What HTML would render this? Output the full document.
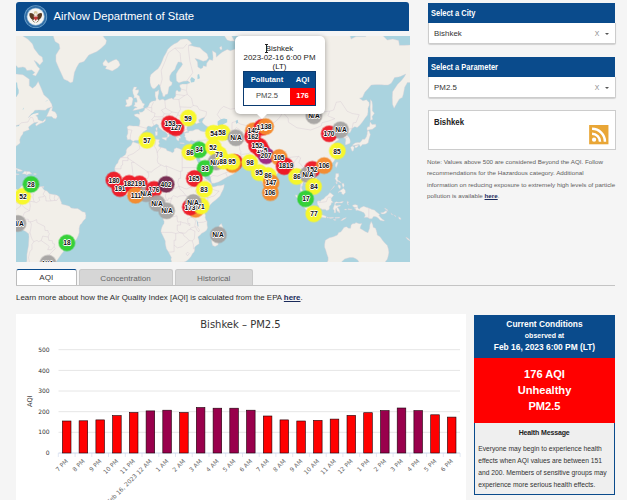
<!DOCTYPE html>
<html><head><meta charset="utf-8"><title>AirNow Department of State</title>
<style>
html,body{margin:0;padding:0}
body{width:627px;height:500px;overflow:hidden;position:relative;background:#f5f5f5;font-family:"Liberation Sans",Arial,sans-serif;color:#333}
.abs{position:absolute}
.blue{background:#0a4b8c;color:#fff}
#hdr{left:16px;top:2px;width:393.2px;height:28.5px;border-radius:3px 3px 0 0}
#hdr .t{position:absolute;left:37.5px;top:7px;font-size:11.3px;line-height:14px;white-space:nowrap}
#map{left:16px;top:36px;width:393.5px;height:226px;overflow:hidden;background:#aad3df}
#lb b{position:absolute;transform:translate(-50%,-50%) scaleX(.86);font:bold 7.7px/8px "Liberation Sans",Arial,sans-serif;color:#0c0c0c;white-space:nowrap;text-shadow:0 0 1.2px #fff,0 0 1.2px #fff,0 0 1.2px #fff,0 0 1.8px #fff,.6px 0 .7px #fff,-.6px 0 .7px #fff,0 .6px .7px #fff,0 -.6px .7px #fff,.5px .5px .7px #fff,-.5px -.5px .7px #fff}
#map svg{position:absolute;left:0;top:0}
.bar{left:427.5px;width:187.5px;height:20.5px;font-size:8.5px;font-weight:bold;line-height:20.7px;text-indent:0}
.bar span{display:inline-block;transform:scaleX(.88);transform-origin:0 50%;margin-left:3.3px;white-space:nowrap}
.sel{left:427.5px;width:186.5px;height:20px;background:#fff;border:.5px solid #ccc;border-top:0;font-size:7.9px;line-height:22px;text-indent:5.6px;border-radius:0 0 2px 2px;box-shadow:0 .5px 1px rgba(0,0,0,.15)}
.sel i{position:absolute;left:166.2px;top:-.2px;font-style:normal;color:#888;font-size:6.8px;text-indent:0}
.sel s{position:absolute;left:176.2px;top:9.8px;width:0;height:0;border:2.3px solid transparent;border-top:2.7px solid #555;border-bottom:0}
#city{left:427.5px;top:109.5px;width:188.2px;height:40.9px;background:#fff;border:.6px solid #ccc;box-sizing:border-box}
#city b{position:absolute;left:5.6px;top:6.2px;font-size:8.8px;line-height:11px;color:#222;transform:scaleX(.89);transform-origin:0 50%}
#note{left:427px;top:156.1px;width:195px;font-size:6.24px;line-height:11.3px;color:#5e5e5e;white-space:nowrap}
#note u{color:#1a2a5a;font-weight:bold}
.tab{top:269px;height:15.5px;font-size:8.1px;line-height:17.5px;text-align:center;box-sizing:border-box;border-radius:2.5px 2.5px 0 0}
.tab.off{background:#d6d6d6;color:#666;border:.5px solid #c8c8c8;border-bottom:0}
.tab.on{background:#fff;color:#333;border:.7px solid #bbb;border-top:1.2px solid #0a4b8c;border-bottom:0;height:16px;line-height:16.6px}
#learn{left:16px;top:291.5px;font-size:7.9px;line-height:11px;white-space:nowrap;color:#2b2b2b}
#learn u{color:#1a2a5a;font-weight:bold}
#chart{left:16px;top:314px;width:450px;height:190px;background:#fff}
#chart text{font:6px "DejaVu Sans",Verdana,sans-serif;fill:#666}
#chart text.yl{fill:#333}
#cond{left:474px;top:315px;width:141px;text-align:center}
#cond .h{height:42.5px;font-weight:bold;font-size:8.4px;line-height:11.6px;padding-top:0;box-sizing:border-box}
#cond .r{background:#ff0000;color:#fff;font-weight:bold;height:65px;font-size:11.1px;line-height:16px;box-sizing:border-box;padding-top:8.3px}
#cond .m{background:#efefef;border:1px solid #0a4b8c;border-top:0;height:72px;box-sizing:border-box;font-size:6.72px;line-height:12px;color:#333;text-align:left;padding:0 0 0 3.2px;white-space:nowrap}
#cond .m b{display:block;text-align:center;font-size:7px;letter-spacing:-.15px;color:#222;padding:4.6px 4px 3.5px 0}
#pop{left:234.5px;top:36px;width:90px;height:78px;background:#fff;border-radius:5px;box-shadow:0 1px 5px rgba(0,0,0,.35);text-align:center;font-size:7.9px;line-height:8.7px;color:#222}
#pop table{position:absolute;left:8.5px;top:35px;width:73px;border-collapse:collapse;border:.7px solid #0a3a70;font-size:7.6px}
#pop th{background:#0a4b8c;color:#fff;height:16.3px;padding:0;font-weight:bold}
#pop td{height:16.7px;padding:0;color:#444}
</style></head><body>

<div id="hdr" class="abs blue">
 <svg class="abs" style="left:8.4px;top:2.7px" width="23.4" height="23.4" viewBox="-11.7 -11.7 23.4 23.4">
  <circle r="11.5" fill="#6c9fc8"/><circle r="10.6" fill="#2e6ca5"/><circle r="9" fill="#8fb4d3"/><circle r="8.3" fill="#f6f5f2"/>
  <path d="M-1.2 -1.5C-3 -4 -5.4 -4.2 -6.3 -3.2C-6.6 -0.6 -5.6 2.2 -2.4 3.6L-1 1.5Z" fill="#5a3b22"/>
  <path d="M1.2 -1.5C3 -4 5.4 -4.2 6.3 -3.2C6.6 -0.6 5.6 2.2 2.4 3.6L1 1.5Z" fill="#5a3b22"/>
  <path d="M-1.9 -1h3.8v2.6L0 4.2L-1.9 1.6Z" fill="#c23a3a"/><path d="M-1.9 -1.2h3.8v1.1h-3.8z" fill="#e9e4da"/>
  <circle cy="-3.6" r="2" fill="#d9c9a0"/><circle cy="-2.4" r="1" fill="#f3efe6"/>
  <path d="M-3.2 3.6L-1 5.8M3.2 3.6L1 5.8" stroke="#6b5a3a" stroke-width=".9" fill="none"/>
 </svg>
 <div class="t">AirNow Department of State</div>
</div>

<div id="map" class="abs">
<svg width="393.5" height="226" viewBox="0 0 393.5 226">
 <path d="M32.6 -25.4L35.8 -7.3L37.4 0.6L39.1 5.6L43.1 7.9L43.9 12.5L39.9 19.0L39.9 25.2L42.3 30.9L45.5 38.1L47.9 43.2L51.9 44.9L54.3 46.8L56.8 45.9L57.6 41.6L58.4 36.4L60.8 30.9L63.2 27.1L68.0 25.6L72.8 19.0L80.9 15.6L84.9 12.5L89.7 7.9L90.5 4.6L87.3 0.6L90.5 -4.6L93.8 -25.4Z M86.8 27.1L89.7 23.6L92.2 27.1L97.0 24.4L100.2 23.2L102.6 25.2L104.1 29.0L101.8 31.7L96.2 35.0L92.2 33.5L89.4 32.8L90.5 30.2L87.3 29.4Z M-6.0 -25.4L2.0 -4.6L6.9 0.1L11.7 3.1L16.5 7.9L18.1 12.5L23.0 19.0L26.2 21.1L27.0 25.2L23.8 29.0L20.6 25.9L18.1 24.4L21.4 30.2L23.8 32.8L21.7 36.4L19.7 39.9L16.5 38.8L18.9 36.4L15.7 33.9L10.9 34.6L9.3 31.7L6.9 30.9L2.0 31.7L0.4 29.8L-6.0 29.0Z M-6.0 38.1L0.4 38.1L6.9 38.8L13.3 43.2L13.3 49.7L16.5 52.2L19.7 49.7L22.2 45.5L25.4 52.8L27.8 58.7L32.6 62.9L35.8 68.3L36.3 70.9L31.8 72.2L29.4 74.2L23.0 74.0L18.9 74.2L17.3 76.5L14.1 79.7L12.5 81.6L14.9 78.4L16.5 77.7L22.2 76.7L22.5 78.4L19.7 79.7L21.4 80.8L22.2 83.7L24.6 84.8L27.0 85.3L29.4 82.5L29.4 84.8L27.8 86.2L23.8 87.8L20.2 90.0L19.4 88.2L22.2 86.0L18.1 86.7L14.9 88.9L12.5 91.1L13.3 93.8L10.9 94.6L7.2 95.9L6.9 98.0L4.8 100.7L3.7 103.8L4.1 107.1L2.0 108.7L0.4 109.9L-6.0 115.4L-6.0 55.8L1.6 54.3L2.5 57.2L0.4 60.7L-6.0 62.9Z M30.5 80.6L32.6 76.0L34.2 72.2L36.6 70.7L35.8 74.7L39.1 76.0L40.7 78.4L41.1 80.8L39.9 82.7L37.4 82.3L35.8 80.6Z M-6.0 130.2L0.4 132.3L5.3 133.9L6.6 134.7L5.3 135.2L0.9 135.2L2.0 134.0L-0.4 133.3L-6.0 132.0Z M-0.0 137.8L3.2 138.1L2.9 138.6L0.1 138.8Z M6.2 137.8L8.5 135.2L10.6 135.4L13.3 135.6L15.9 137.5L14.9 137.8L12.5 138.1L10.9 139.0L9.3 138.1Z M17.8 137.6L20.4 137.8L20.1 138.5L17.8 138.5Z M26.3 150.6L28.0 150.4L27.8 151.6L26.3 151.6Z M-6.0 152.6L0.4 152.9L1.6 153.9L2.4 154.0L4.3 151.4L5.6 149.9L8.5 149.5L10.9 147.8L11.2 150.1L10.3 150.9L10.9 150.3L11.7 150.4L13.3 149.3L13.3 148.1L15.7 149.6L16.5 150.9L19.7 150.8L22.2 151.4L24.6 150.6L26.2 150.6L26.5 151.7L27.8 153.4L28.6 154.2L31.0 155.0L33.4 157.8L37.4 158.4L40.7 159.1L43.1 160.7L44.7 164.7L45.5 166.6L45.5 167.9L47.9 168.7L49.5 169.0L53.5 170.3L55.1 171.9L58.4 172.4L61.6 172.4L64.0 173.9L66.4 175.7L69.1 176.3L69.9 179.5L69.6 182.5L67.2 184.9L65.6 187.4L64.0 189.0L63.2 192.3L63.2 196.5L62.1 199.9L60.3 203.4L58.7 205.6L55.9 206.0L53.5 206.8L51.1 208.1L48.7 210.0L47.7 212.2L47.6 215.4L45.5 218.0L43.1 221.4L41.5 223.8L39.9 226.2L37.4 227.9L34.2 227.1L32.0 226.2L33.7 230.1L34.2 238.3L8.5 238.3L10.1 230.1L10.9 224.2L10.9 218.6L12.5 209.5L13.0 200.8L12.7 197.9L10.1 195.7L5.3 193.2L3.2 190.7L1.7 187.4L0.1 184.1L-1.2 180.8L-6.0 177.6Z M116.4 106.2L117.4 106.0L121.1 107.3L122.7 107.5L125.9 106.2L128.4 104.8L130.8 104.0L134.0 104.2L137.2 103.8L140.4 103.2L142.4 103.4L143.6 103.8L142.8 105.8L143.6 107.7L142.4 109.1L142.8 110.5L144.4 111.2L146.9 111.8L150.1 112.8L150.9 114.5L154.1 115.6L156.5 116.7L158.1 115.4L158.1 113.0L160.5 111.8L162.9 112.4L166.2 114.1L169.4 114.8L172.6 115.4L175.0 114.5L177.4 114.8L177.9 115.0L178.4 117.3L178.1 118.2L179.0 120.6L180.0 121.9L180.6 123.7L181.9 126.4L183.1 128.1L183.4 129.9L185.2 131.6L185.8 133.3L186.0 135.9L187.9 138.5L189.5 142.7L191.9 144.0L194.3 146.5L195.6 147.6L195.4 149.0L196.7 150.9L199.1 150.6L201.6 149.8L204.8 149.6L208.3 148.6L208.0 150.9L207.2 153.4L205.6 156.6L204.0 159.9L201.6 162.3L199.1 164.4L196.7 166.3L194.3 168.7L192.7 170.8L190.6 172.7L189.5 175.2L188.7 177.6L189.5 179.2L189.2 181.6L190.0 184.1L191.1 185.2L191.1 189.0L191.6 191.5L190.8 194.0L188.7 195.7L185.5 197.4L184.3 198.9L182.3 200.4L181.9 201.6L182.9 203.9L183.1 207.7L179.8 210.0L178.7 211.3L178.7 214.0L178.1 216.0L176.6 217.6L175.0 220.4L172.6 223.3L170.2 225.2L167.8 226.2L164.6 226.3L161.3 226.5L158.1 227.7L155.7 226.5L155.4 225.2L154.9 223.3L155.4 221.4L153.8 218.6L152.5 216.0L150.4 212.7L149.3 207.7L149.3 205.1L147.7 201.6L146.1 198.2L144.9 195.7L145.2 193.2L146.5 189.8L148.0 187.4L148.1 185.4L146.9 182.5L147.3 181.3L145.7 177.6L145.2 176.0L143.6 174.0L141.5 171.8L140.4 169.5L140.9 167.9L141.4 166.3L141.5 164.2L141.7 162.6L141.2 161.6L140.3 160.7L139.3 160.7L137.2 160.8L135.6 161.0L134.5 159.5L133.2 157.9L131.4 157.6L129.2 157.8L127.5 158.4L125.9 158.9L123.5 159.9L121.9 160.0L120.3 159.7L117.9 159.7L115.5 160.3L113.9 160.8L111.5 159.5L108.7 157.8L107.4 156.8L105.8 155.8L104.7 154.2L104.5 152.9L102.6 151.3L101.8 150.1L100.5 148.8L99.1 147.8L98.9 146.3L98.6 145.2L97.8 144.0L98.9 142.7L99.4 141.0L99.9 138.5L99.7 136.3L99.4 135.1L98.6 133.3L98.9 131.3L100.2 128.6L101.8 126.9L102.6 124.2L104.7 121.5L106.6 120.8L109.5 118.6L110.3 116.3L110.2 114.5L111.1 112.4L113.1 110.7L115.0 109.5L116.0 107.3Z M205.3 187.4L206.7 190.7L207.2 193.2L206.1 194.0L205.6 196.5L204.5 200.8L203.2 205.1L201.9 209.1L199.1 210.4L196.7 209.5L195.9 206.8L195.6 203.9L197.2 200.8L196.7 197.4L197.5 194.3L200.0 193.5L202.4 191.8L203.2 189.8L204.5 188.2Z M111.5 103.8L110.7 100.3L111.8 97.6L111.8 93.8L111.0 91.1L113.1 89.6L117.1 90.0L120.3 90.0L123.0 90.3L123.8 87.8L124.0 84.4L122.4 81.8L118.7 80.1L118.2 78.4L121.1 77.7L123.4 78.2L123.2 75.5L124.3 76.2L126.3 76.0L128.4 74.2L128.7 72.5L131.6 71.2L132.7 69.6L133.7 67.0L135.6 65.6L137.2 65.1L139.6 64.8L140.1 62.9L139.1 60.1L139.1 55.8L141.2 55.2L142.8 53.7L142.8 57.2L142.0 60.1L142.0 62.6L143.6 64.3L146.1 63.2L147.7 63.5L148.8 64.6L152.5 62.9L155.7 62.1L157.3 63.2L158.1 61.8L159.7 60.1L159.7 55.8L161.0 54.0L162.9 55.8L164.6 55.2L165.0 52.8L163.8 50.6L163.8 49.1L166.2 48.1L171.0 48.1L174.2 46.8L171.8 44.9L167.8 45.2L162.9 46.8L160.5 44.9L160.2 41.6L160.2 38.1L162.1 34.6L165.4 30.2L166.6 28.3L165.4 26.3L162.1 25.9L160.2 29.8L158.9 33.5L155.7 36.4L153.8 39.9L153.6 43.2L154.1 44.9L156.2 46.5L155.7 49.1L153.0 50.9L152.5 54.3L151.7 58.1L149.3 58.7L148.8 60.4L146.9 60.4L146.5 57.8L144.9 54.3L144.0 49.7L142.8 48.1L141.2 50.0L138.8 52.5L136.9 52.8L135.0 50.3L134.0 46.5L134.0 41.6L134.8 38.8L137.2 36.4L139.6 34.6L142.0 32.8L144.4 29.0L146.1 25.2L147.7 21.1L150.1 16.9L151.7 13.4L154.9 10.3L158.1 7.9L161.3 6.5L164.6 3.6L167.8 3.1L171.0 3.1L174.2 5.6L175.8 7.9L172.6 9.3L175.8 9.8L179.0 10.7L183.9 11.6L187.1 14.7L191.1 17.8L192.4 21.9L190.3 24.4L187.1 25.2L182.3 23.2L179.0 22.4L181.5 25.9L181.9 30.9L184.7 32.8L186.8 31.7L187.1 29.8L190.3 30.6L190.8 27.1L193.5 23.6L196.7 24.4L197.1 21.1L196.4 14.7L200.0 16.9L200.4 21.1L203.2 18.6L206.4 16.1L211.2 13.4L214.4 14.7L219.3 13.0L222.5 10.3L223.3 7.9L228.9 11.2L232.1 12.5L233.7 10.3L233.4 4.6L234.5 0.6L235.4 -25.4L241.8 -25.4L242.6 0.6L241.8 10.3L243.1 16.9L245.0 16.9L245.0 7.9L245.8 -2.0L246.6 -25.4L331.9 -25.4L333.5 -2.0L335.1 3.1L339.9 0.6L349.6 0.6L351.2 -6.2L360.9 -3.5L367.3 0.1L371.3 4.1L376.9 3.1L382.6 4.6L383.4 9.3L388.2 9.3L396.3 8.9L399.5 -25.4L402.7 46.5L391.4 46.5L388.7 51.2L387.4 58.1L386.3 61.5L383.4 62.9L381.0 67.0L378.1 72.2L376.5 68.3L376.3 61.5L376.6 55.8L378.6 52.8L381.8 48.1L385.0 44.9L388.2 40.9L389.8 38.1L384.2 40.6L382.6 40.9L378.6 41.6L375.3 47.2L372.1 49.1L368.9 49.1L364.9 48.7L359.2 48.7L355.2 49.1L352.0 52.8L348.8 56.3L346.4 61.5L343.6 62.3L346.9 64.8L350.4 63.7L353.1 66.5L353.3 69.1L352.0 72.2L352.0 76.0L351.5 78.9L348.8 82.5L346.4 86.0L344.0 88.9L341.2 91.6L338.8 90.7L336.7 92.0L335.9 92.7L334.6 95.5L334.3 96.3L331.4 97.8L330.9 99.3L332.4 100.5L334.0 103.2L334.3 105.8L334.0 107.3L332.2 107.9L329.5 108.9L329.3 106.7L329.8 104.2L329.3 102.3L327.4 102.1L327.1 100.5L327.4 98.6L325.9 97.8L323.0 98.8L321.1 100.1L321.9 96.3L320.6 95.9L318.2 98.0L315.8 99.3L315.3 100.7L317.1 102.1L317.9 103.4L320.1 102.1L323.0 103.2L322.7 104.0L319.8 105.6L317.9 107.7L319.5 109.3L320.3 112.0L321.9 113.9L322.1 115.6L320.6 116.5L322.2 117.7L321.6 120.0L320.3 121.3L318.7 124.0L317.4 126.0L315.8 127.4L314.2 129.0L312.6 130.1L309.7 131.1L308.2 131.4L305.8 132.3L303.7 133.0L303.4 134.6L302.6 132.7L300.5 132.1L298.1 133.3L297.3 135.1L296.2 136.8L297.3 139.0L298.9 140.8L300.5 142.3L301.6 145.2L301.8 147.6L301.3 149.3L298.9 150.9L297.6 151.7L297.5 153.4L294.9 153.9L294.6 152.1L293.8 150.9L292.5 150.8L291.3 148.8L290.1 147.6L288.4 147.3L288.3 146.2L287.3 146.2L286.8 147.6L286.7 149.3L285.6 150.9L285.7 152.9L286.8 154.2L287.6 156.3L289.3 157.0L290.9 158.2L292.1 159.9L292.3 161.5L292.5 163.4L293.6 165.5L292.5 165.8L290.9 164.7L288.9 163.3L288.0 161.5L287.3 159.1L287.2 157.4L286.2 156.6L284.7 155.0L284.1 154.7L284.1 153.1L284.4 150.9L284.7 148.8L284.4 146.8L283.6 144.8L283.1 142.2L282.8 140.8L281.7 140.2L279.6 142.0L278.0 141.8L277.7 139.3L277.2 137.1L276.4 135.4L274.5 133.5L273.6 131.1L271.6 130.7L269.9 132.0L267.5 132.1L265.9 132.8L265.6 134.2L263.5 135.6L261.9 137.1L259.8 139.1L258.4 140.7L256.6 141.8L255.0 142.7L254.8 145.2L255.1 146.8L254.5 148.5L254.3 151.1L253.4 151.4L252.9 152.9L251.8 153.7L250.6 155.0L249.0 153.5L248.5 151.7L247.7 149.3L246.3 146.8L245.6 144.3L244.2 141.8L243.4 139.3L243.1 136.8L242.9 134.2L242.8 132.5L242.3 133.3L240.2 133.7L238.6 133.0L237.0 131.1L238.9 130.1L236.5 129.4L234.5 128.3L233.7 126.7L232.9 125.6L229.7 126.0L225.7 126.2L222.5 125.8L219.3 125.3L217.7 123.3L216.0 122.6L213.6 123.5L211.2 122.8L208.8 121.1L207.2 118.8L206.4 116.9L204.6 116.7L203.2 117.5L203.5 119.1L204.5 121.3L206.1 123.1L206.7 124.6L207.7 126.7L208.5 124.6L209.0 126.4L208.8 127.6L210.4 127.8L212.8 127.8L214.9 125.8L216.5 124.2L216.7 126.5L217.7 128.3L220.2 128.8L222.2 130.7L221.7 132.5L220.1 134.4L218.9 136.8L216.8 138.5L214.8 139.3L212.8 140.2L209.9 141.8L204.8 144.8L202.4 146.0L198.3 147.2L195.9 147.3L195.4 146.0L194.8 143.5L194.6 141.0L192.7 138.5L191.1 135.9L189.0 133.3L188.7 130.7L187.4 128.1L185.8 126.4L184.8 124.6L183.1 121.9L181.9 121.0L182.3 118.2L181.3 121.0L179.4 119.7L178.4 117.3L177.9 115.0L181.0 114.8L182.1 112.6L183.1 109.7L183.7 106.7L184.2 104.4L181.9 104.4L179.8 105.4L177.4 105.0L175.2 104.2L173.4 105.4L171.0 104.4L169.9 103.8L169.7 101.7L168.6 100.7L169.1 98.8L168.1 97.8L170.2 96.7L172.6 96.5L172.9 95.0L176.6 94.8L179.8 93.3L182.3 93.3L184.7 95.0L187.9 95.7L190.3 95.5L192.7 94.4L192.7 91.8L190.3 90.0L187.9 88.2L186.0 86.0L187.4 83.2L189.0 81.6L186.3 82.0L182.6 83.7L183.1 86.0L184.7 86.0L182.3 87.1L180.2 88.0L178.4 86.0L179.8 84.4L177.4 83.7L175.5 83.2L173.7 86.0L172.1 88.9L170.7 91.8L171.3 94.4L172.4 95.3L170.2 95.7L168.6 96.7L168.1 96.1L166.2 95.7L164.6 96.1L163.8 97.2L162.6 96.5L162.5 98.6L163.3 99.7L164.6 101.3L164.6 102.3L163.3 101.9L162.9 103.2L163.1 104.8L162.0 104.8L160.9 104.0L160.1 102.1L160.5 101.1L162.6 101.7L159.7 100.9L159.2 99.7L158.1 98.2L157.2 96.5L157.3 94.0L155.7 92.2L153.3 90.7L151.4 89.4L150.1 87.3L149.3 86.2L148.0 86.7L147.8 85.1L145.9 85.8L145.7 87.8L147.7 89.8L148.8 92.2L150.9 93.3L152.0 93.8L151.7 94.6L154.1 95.9L155.7 97.2L155.4 98.0L153.3 96.5L152.6 98.2L153.5 99.7L152.5 101.1L151.2 101.9L151.4 100.1L151.7 98.6L150.9 97.4L149.8 96.3L148.5 95.5L146.9 94.8L145.6 93.8L143.6 92.2L142.7 91.1L142.4 89.1L140.4 88.0L138.8 89.1L137.7 89.6L135.6 90.9L133.7 90.3L132.1 90.0L130.8 91.6L131.1 93.5L129.2 94.8L127.2 95.9L125.6 98.2L126.3 100.1L125.0 101.7L124.7 102.5L122.7 104.2L118.9 104.4L117.3 105.6L116.0 104.8L114.7 103.4L112.7 103.6Z M116.8 74.5L120.3 74.0L124.3 73.0L128.0 71.7L127.2 70.9L128.7 68.1L126.4 67.0L125.9 65.4L124.0 62.6L123.4 60.1L121.1 58.7L122.7 55.8L122.7 53.7L119.5 54.0L120.8 50.9L117.9 50.9L116.6 54.3L117.1 57.8L118.2 60.1L117.9 62.1L120.3 61.8L121.1 64.3L121.1 66.2L118.7 66.2L119.0 68.3L117.6 70.2L120.3 70.9L121.1 71.7L119.0 72.0Z M109.8 70.7L113.1 70.4L115.8 69.1L116.3 66.2L117.1 62.9L115.5 60.9L112.7 60.9L112.3 63.2L109.8 63.7L110.2 66.2L111.0 68.1L109.4 69.4Z M145.9 101.7L151.0 101.3L150.2 104.4L146.1 102.5Z M139.1 95.5L141.5 95.5L141.4 99.3L139.5 99.7Z M139.8 92.2L141.2 91.1L141.2 94.4L140.1 94.4Z M163.8 106.7L168.3 107.1L168.1 107.7L163.8 107.3Z M177.9 107.7L181.6 106.4L180.6 107.9L178.6 108.5Z M208.8 0.6L211.2 4.1L214.4 5.1L218.5 5.1L216.0 0.6L215.2 -25.4L209.6 -25.4Z M203.7 11.2L205.6 10.3L206.1 13.4L204.0 13.4Z M254.3 152.2L255.1 152.6L256.8 154.2L257.7 156.3L257.1 157.8L255.5 158.4L254.7 157.9L254.3 155.8L254.5 153.7Z M351.2 94.4L353.1 93.8L356.3 93.3L360.0 90.5L359.7 88.2L356.0 88.5L354.1 85.8L353.8 88.9L353.3 90.7L351.7 90.7L350.9 92.7Z M352.8 94.6L354.4 98.6L353.6 101.1L352.8 103.8L352.3 106.4L350.9 107.7L349.3 108.3L346.4 108.5L346.1 109.1L344.4 110.7L343.2 108.5L339.9 109.1L336.7 109.7L336.7 108.7L339.1 106.9L341.5 106.6L344.0 106.6L345.6 104.8L346.4 103.2L348.8 103.2L350.4 100.7L351.2 98.0L351.2 96.1L351.7 95.0Z M335.1 110.7L336.7 110.1L338.2 111.6L337.4 114.7L336.1 115.2L335.4 113.5L334.6 111.6Z M339.1 109.7L342.4 109.1L342.0 110.5L339.9 112.0L338.8 111.0Z M354.4 63.5L356.0 65.6L356.5 69.6L356.3 74.7L358.4 77.2L356.0 80.8L356.8 83.2L354.4 84.4L354.4 80.8L354.4 76.0L354.1 70.9L354.4 67.0Z M320.6 126.0L322.2 126.4L321.4 129.0L320.3 131.6L319.3 130.2L319.3 128.5Z M300.8 136.4L302.9 135.1L304.5 135.6L303.4 137.6L302.1 138.1L300.8 137.5Z M319.8 137.6L322.6 137.6L322.9 140.2L321.4 141.8L321.8 144.3L323.8 145.2L325.5 147.2L324.3 146.8L322.2 145.5L320.6 145.7L320.0 144.3L319.0 142.7L319.5 141.0Z M322.2 156.1L324.7 154.2L327.5 152.2L329.2 154.2L329.5 156.6L327.9 158.2L327.5 158.7L325.8 157.8L325.5 156.1L323.8 155.8L322.2 156.8Z M325.9 147.6L327.9 147.6L328.2 150.1L327.1 151.4L326.3 149.6Z M322.2 148.8L324.2 149.3L324.7 150.9L323.8 153.1L323.0 152.1L322.2 150.8Z M314.7 154.2L318.2 150.9L318.4 149.6L316.6 152.1L314.5 154.5Z M319.7 146.2L321.3 146.3L321.1 148.0L320.3 147.8Z M301.3 165.5L302.3 164.7L304.5 165.2L305.2 163.9L307.8 162.8L309.4 160.7L311.8 159.1L313.9 156.6L315.3 157.6L317.7 159.4L316.3 161.0L315.2 162.3L315.5 164.7L317.3 166.3L315.5 166.8L315.0 168.7L313.4 170.3L313.4 172.7L312.6 174.0L310.5 174.5L309.4 173.4L306.1 173.4L305.3 172.7L303.3 172.4L302.9 170.3L301.6 168.7L301.3 167.1Z M279.3 158.9L282.8 159.5L284.4 161.5L286.8 163.4L288.4 164.7L291.7 166.8L293.0 168.7L294.1 170.8L296.5 172.7L296.5 176.0L296.2 177.4L294.1 177.3L291.7 175.7L289.3 173.1L287.6 170.3L285.6 167.6L284.4 165.2L282.3 163.1L279.6 160.2Z M295.2 178.9L297.3 177.6L300.5 178.4L303.7 178.9L304.5 178.4L307.4 179.2L310.2 180.3L310.0 182.0L307.0 181.5L302.9 181.0L299.7 180.5L297.3 179.9Z M311.0 181.2L312.1 181.2L311.8 182.1L311.0 182.0Z M312.6 181.3L313.7 181.3L313.5 182.3L312.6 182.1Z M313.9 181.5L317.4 181.3L317.4 182.1L314.2 182.5Z M318.9 181.5L323.7 181.2L323.5 182.1L319.0 182.3Z M317.4 183.3L320.3 183.8L319.0 184.6L317.4 183.8Z M324.7 184.6L327.1 182.5L330.3 181.5L329.5 182.5L326.3 184.4Z M318.7 166.6L320.3 165.8L323.0 166.3L326.3 165.5L327.4 165.3L326.3 167.1L323.8 167.1L320.6 167.1L319.3 167.9L319.8 169.5L321.4 169.4L324.3 169.0L324.5 169.9L322.2 170.7L321.4 171.1L322.7 172.7L323.5 174.4L323.8 176.8L322.7 176.5L322.2 175.2L321.4 175.5L320.6 173.2L320.6 172.3L319.7 172.7L319.7 175.2L319.7 176.8L318.2 176.8L318.2 174.4L317.4 173.6L317.1 172.3L317.9 170.3L318.7 168.2Z M331.1 164.7L331.9 166.3L333.0 165.8L331.9 167.4L332.7 169.2L331.6 168.4L331.1 166.6Z M331.9 172.7L336.4 173.2L335.1 173.7L331.9 173.6Z M328.7 173.1L330.6 173.2L330.3 174.0L328.8 173.9Z M336.7 169.2L339.1 168.6L341.5 169.2L341.9 171.9L343.2 173.2L344.8 171.5L347.7 170.3L349.6 171.1L352.8 172.1L356.0 173.4L358.4 174.0L360.5 176.0L362.5 177.6L363.8 178.7L362.8 179.2L364.4 181.3L366.5 183.3L368.6 184.6L367.3 185.1L364.1 184.3L362.1 182.1L360.0 180.7L357.6 180.5L356.8 181.6L356.0 182.8L353.6 182.8L351.2 181.2L348.3 181.5L349.3 179.2L348.0 176.8L344.8 175.3L341.5 174.2L339.9 174.4L339.6 172.7L338.3 172.4L340.7 171.6L338.8 171.5L336.7 170.2Z M364.6 176.8L367.3 176.5L369.7 174.8L371.0 174.8L370.5 176.8L368.1 177.9L365.7 178.1Z M368.6 172.1L371.3 173.6L372.1 175.5L371.3 174.4L368.9 172.7Z M374.9 176.8L376.8 178.9L375.7 178.6Z M377.7 178.9L380.2 180.2L379.4 180.5Z M382.6 180.8L384.7 182.1L385.0 183.4L383.1 183.1L382.7 181.6Z M389.8 201.1L392.2 202.5L394.5 204.6L393.5 204.7L391.1 203.0Z M309.4 204.2L309.7 203.9L313.4 201.8L317.4 200.8L321.4 199.1L322.7 196.5L324.7 196.0L326.3 194.0L327.9 191.5L330.3 190.7L332.7 192.2L334.6 192.2L335.1 189.0L336.7 187.7L339.1 187.4L339.9 186.5L343.2 187.7L345.9 187.4L344.8 189.8L344.0 192.3L346.4 193.7L349.6 195.7L352.0 196.7L353.6 192.3L353.9 188.7L355.2 185.4L356.8 188.7L357.2 191.2L359.6 192.3L360.9 196.5L361.3 199.1L364.1 200.8L366.5 204.2L368.6 206.8L371.3 209.5L372.4 213.1L372.9 216.7L372.1 220.4L371.3 223.3L369.7 225.2L368.9 227.1L368.1 238.3L344.8 238.3L343.5 227.1L341.9 224.2L339.9 222.7L337.0 221.4L333.5 221.6L328.7 222.9L325.5 226.0L323.8 238.3L311.0 238.3L311.0 226.7L312.1 224.2L312.1 221.4L311.0 218.6L309.7 214.0L308.6 211.3L308.6 208.6L309.0 206.0Z" fill="#f2efe9" stroke="#d8cfd6" stroke-width=".4" fill-rule="nonzero"/>
 <path d="M204.8 83.2L208.0 82.5L211.2 83.2L211.2 86.2L208.3 87.8L206.9 88.2L208.5 91.1L210.4 92.0L210.7 94.8L212.5 95.9L211.2 99.1L212.5 103.4L209.6 104.2L206.9 103.2L204.8 101.7L204.8 99.7L205.6 96.7L204.3 93.8L202.4 91.1L201.6 88.5L201.6 85.5Z M219.7 84.8L221.7 83.7L222.2 86.7L220.1 87.8Z M177.1 169.2L178.2 167.4L180.6 167.4L181.0 169.5L179.8 171.9L177.4 171.9Z M172.9 173.4L173.7 175.2L175.5 179.2L175.8 182.0L174.7 180.8L173.1 176.8Z M180.6 183.4L181.9 186.5L182.6 190.7L181.6 189.8L180.8 185.7Z M293.0 70.9L295.7 70.7L299.7 66.5L302.6 60.1L301.3 59.8L298.1 65.6L294.9 68.8Z M244.2 84.8L246.6 82.7L251.4 83.2L253.1 83.7L249.8 84.1L245.8 86.2Z M175.0 46.5L178.2 45.9L179.0 43.2L175.8 40.9L174.2 43.2Z M181.5 43.2L183.9 42.2L183.1 38.1L181.5 38.8Z M-6.0 46.5L1.1 46.5L1.6 51.2L2.7 54.0L2.5 57.2L0.4 60.7L-2.0 62.6L-6.0 62.9Z M13.6 79.9L15.7 77.5L18.9 75.7L22.2 75.7L22.0 76.7L18.1 77.5L14.9 79.2L12.0 82.0Z M-2.5 90.5L3.2 88.7L3.2 90.0L-1.2 90.7Z M6.4 73.5L8.0 71.4L7.5 73.2Z M28.9 65.6L32.3 64.0L31.0 65.1Z" fill="#aad3df"/>
 <path d="M122.7 107.5L124.0 112.6L120.3 115.4L117.1 117.7L111.9 119.7L111.9 122.2 M104.7 121.6L112.0 121.6 M112.0 122.2L112.0 124.6L106.6 124.6L106.6 129.0L105.0 129.9L105.0 132.8L98.6 132.8 M112.0 122.2L118.2 126.4L127.9 133.2L131.1 135.4L131.2 136.8L132.7 136.6L132.7 140.3L131.6 142.7L126.3 143.5L124.8 143.3L122.7 144.8L120.3 146.3L118.9 148.0L117.1 148.8L117.1 151.1L113.1 151.4L112.6 150.1L111.5 147.8L107.6 148.1L106.3 144.0L102.6 140.8L99.4 141.7 M106.3 144.0L107.4 142.7L117.1 142.7L117.4 141.3L115.5 126.4L118.2 126.4 M131.1 135.4L135.3 136.1L138.0 133.7L145.2 129.0L142.0 127.2L141.2 124.0L141.9 121.0L141.2 116.9L140.4 113.5L139.3 111.6L138.0 110.1L139.1 108.5L139.8 104.0 M141.2 116.9L142.5 114.1L144.4 112.6L144.4 111.2 M145.2 129.0L148.8 130.6L150.1 129.9L164.6 135.9L164.6 135.1L166.2 135.1L166.2 114.3 M166.2 131.6L185.3 131.6 M150.1 129.9L150.9 133.3L150.9 140.3L147.8 144.3L147.8 145.7L146.1 146.7L142.0 146.5L138.5 146.3L136.9 146.8L134.8 145.3L132.5 146.0L131.7 149.0L130.4 148.0L129.5 147.5L127.4 145.8L126.3 143.5 M164.6 135.9L164.6 142.3L162.8 142.5L161.7 146.8L162.8 149.5L162.8 150.3L164.1 153.4L164.9 153.9L166.5 155.2L170.0 159.7L173.4 160.8L175.7 162.3L177.3 162.1L180.6 161.2L183.7 160.5 M162.8 150.3L166.2 151.3L168.6 152.6L171.0 152.9L174.2 151.3L175.8 152.1L178.1 149.0L179.4 148.1L179.2 150.6L180.8 150.8 M187.9 138.5L185.5 140.2L184.5 143.8L184.0 147.3L180.8 150.8L180.8 154.0L179.0 155.0L180.6 157.4L183.7 160.5L183.9 160.8L187.1 162.1L189.5 162.4L191.9 161.6L193.4 161.6L195.1 160.7L198.3 159.9L203.2 155.0L201.6 155.0L196.7 153.4L195.1 149.5L193.5 147.2L191.6 144.8L188.7 144.2L186.9 143.7L184.5 143.8 M191.9 161.6L191.9 169.2L192.7 170.7 M189.0 175.5L186.4 173.6L186.6 172.7L180.6 169.5L175.0 169.5L173.6 170.2L172.6 172.3L172.9 173.2L175.5 173.2L175.0 171.8L175.0 169.5 M180.6 169.5L180.6 167.1L182.3 165.2L180.6 161.2 M155.9 162.3L154.9 164.4L154.4 168.7L152.0 171.5L151.5 174.2L150.4 174.8L149.1 175.7L146.9 175.3L145.6 177.1 M145.6 177.4L147.5 177.4L152.6 177.4L153.3 179.7L157.2 180.8L161.0 179.7L161.2 183.6L161.8 186.1L164.6 185.7L164.6 189.0L161.3 189.0L161.3 194.3L163.6 196.7L166.6 197.0 M164.6 185.7L166.8 186.7L169.4 187.0L171.6 188.2L173.9 189.7L173.9 187.7L172.0 187.4L171.6 182.8L175.5 181.2 M175.5 181.2L172.9 177.6L173.1 173.2L173.6 170.2L174.2 166.0L176.3 164.4L175.7 162.3 M149.3 160.0L150.4 156.0L152.5 155.3L155.9 155.0L156.5 153.4L159.7 152.1L162.8 150.3 M170.0 159.7L166.6 159.7L162.8 160.2L162.0 161.3L157.3 159.7L155.9 161.0L155.9 162.3L152.5 162.3L152.0 164.4L149.3 164.4L147.3 164.4L144.1 164.4L144.1 166.3L141.7 166.3 M139.8 160.3L141.2 157.6L144.1 157.3L146.5 154.0L147.8 150.6L149.4 149.3L148.8 147.8L148.6 146.7L147.8 145.7 M149.4 149.3L150.2 150.4L150.9 151.9L148.3 152.4L150.4 156.0 M149.3 160.0L150.1 163.1L152.0 164.4 M147.3 164.4L149.1 165.8L149.1 168.7L148.5 171.8L146.1 171.8L144.6 172.4L143.8 174.2 M144.9 196.2L148.5 196.4L155.5 196.4L159.7 197.4L163.6 196.7L166.6 197.0 M159.7 197.4L159.7 204.2L158.1 204.2L158.1 209.1L158.1 215.6L153.9 216.2L152.5 216.0 M158.1 209.1L161.3 211.8L166.2 210.7L169.2 207.7L173.2 204.6L176.3 204.9 M166.6 197.0L169.4 197.2L172.4 193.8L174.9 193.3L178.9 195.2L178.7 199.1L178.2 203.0L176.3 204.9L177.4 208.6L177.4 212.7L178.9 212.7 M166.6 197.0L168.1 200.1L170.5 201.6L173.2 204.6 M174.9 193.3L174.5 192.0L179.4 190.7L178.9 189.8L179.5 185.4L178.9 183.1L175.5 181.2 M190.9 184.9L187.1 186.2L183.5 186.5L181.6 186.7 M181.6 186.7L181.3 191.3L183.5 194.0L182.7 195.9L181.1 194.3L179.4 190.7 M169.9 217.8L171.8 216.2L173.2 217.6L171.5 219.7L169.9 217.8 M121.3 159.7L120.8 156.6L121.6 152.6L121.3 150.1 M127.1 158.2L126.7 155.0L125.9 150.1 M128.5 157.9L128.5 153.4L127.2 150.1 M130.3 157.6L130.4 153.4L131.7 149.0 M113.9 160.8L112.3 155.7 M104.5 153.4L108.7 154.5L112.3 155.7L113.1 151.4 M107.4 156.8L109.4 154.4 M103.9 147.5L107.6 148.1 M99.1 147.8L101.8 147.5L103.9 147.5 M101.8 150.1L103.9 149.0L103.9 147.5 M123.0 90.3L131.1 92.5 M111.8 93.5L116.0 94.2L114.7 98.2L114.0 103.4 M130.0 72.0L135.6 76.0L139.1 77.2L138.2 80.6L135.6 83.7L137.2 84.6L136.6 86.4L138.0 89.4 M135.6 76.0L135.8 73.0L135.6 70.2L137.5 66.2 M131.4 71.2L135.6 71.7 M148.8 64.6L149.6 72.2L145.4 74.0L148.1 77.7L146.9 80.8L141.4 80.8L138.2 80.6 M137.2 84.6L142.7 83.2L148.0 83.2L147.8 85.1 M148.1 77.7L153.3 78.2L151.8 82.5L148.0 83.2 M157.3 63.2L162.9 63.5L163.9 70.9L164.6 73.2L162.3 77.0L156.2 76.0L153.3 78.2 M149.6 72.2L156.2 76.0 M162.3 77.0L161.7 78.7L166.0 80.4L168.7 78.9L171.3 85.5L173.7 86.0 M163.9 70.9L175.2 71.4L177.1 69.4L181.3 70.2L183.2 73.7L190.5 75.7L190.0 79.9L187.4 81.8 M177.1 69.4L175.5 62.1L171.3 58.4L170.5 54.6L171.0 48.1 M159.7 58.4L168.7 59.5L171.3 58.4 M162.9 63.5L168.7 59.5 M165.0 53.1L170.0 54.3 M170.7 44.9L176.8 36.7L173.9 25.2L172.4 13.0L172.6 9.3 M144.4 49.7L146.2 43.2L145.2 34.6L149.3 24.8L152.3 16.9L158.9 12.1L167.3 12.1L171.0 7.9 M164.9 25.9L164.1 17.3L158.9 12.1 M158.6 84.1L162.5 88.5L172.0 89.6 M151.8 82.5L158.6 84.1L161.7 78.7 M147.8 85.5L151.2 83.9L152.3 83.2 M151.2 83.9L156.5 84.6L157.2 86.9L151.4 86.2L154.3 91.4 M157.2 86.9L156.8 90.0L158.6 91.6L158.9 95.5L159.7 95.7 M158.6 84.1L157.2 86.9 M162.5 88.5L162.0 92.7L158.6 91.6 M162.0 92.7L162.9 94.8 M158.1 98.2L159.7 95.7L162.9 94.8L168.3 94.0L167.8 96.1 M168.3 94.0L171.0 93.3 M184.2 104.4L187.1 104.2L194.2 103.6L198.0 103.4L197.5 98.2L196.3 95.3L192.7 94.4 M190.3 90.0L195.9 91.6L200.8 93.5L204.1 93.8 M196.3 95.3L200.8 93.5 M198.0 98.2L203.2 98.2L204.6 100.9 M196.3 95.3L198.3 95.0L200.8 98.6L200.8 99.9 M194.2 103.6L191.9 108.9L188.4 110.8L189.0 113.3L185.5 114.5L187.1 116.3L186.3 117.3L184.0 118.8L182.3 118.2 M183.2 112.2L185.2 113.0L188.4 110.8 M189.0 113.3L197.9 118.8L200.9 118.9L202.7 120.0L203.8 120.0 M198.0 103.4L200.0 106.2L199.0 109.7L203.0 115.4L204.1 117.3 M181.0 114.8L182.1 118.2 M183.2 111.0L183.1 114.5L182.3 118.2 M182.4 111.4L184.8 109.3L183.9 108.5 M194.8 141.2L196.7 139.5L201.6 140.2L209.6 136.8L214.4 135.1L215.6 131.6L214.8 130.4L210.6 130.1L209.0 127.6 M209.6 136.8L211.4 140.8 M214.8 130.4L216.0 127.9L216.5 125.3 M212.7 103.2L218.0 101.1L221.4 102.7L224.4 104.6L223.3 110.3L223.9 114.5L225.4 115.8L223.9 117.5L227.8 122.8L225.1 126.0 M224.4 106.6L229.7 105.2L232.9 102.9L235.4 103.8L240.2 100.9L246.5 103.4L241.1 105.0L240.3 109.7L237.4 113.7L232.6 117.5L226.5 118.4L223.9 117.5 M210.4 93.8L216.0 94.8L217.7 94.8L220.2 91.6L222.5 92.9L225.5 95.3L232.9 102.9 M216.0 94.8L216.0 86.7L220.2 85.3L224.2 88.0L230.4 89.6L232.3 91.1L235.4 95.9L239.4 93.3L240.2 92.7L244.2 92.5L245.3 90.7L253.4 91.6L255.0 92.9L255.0 86.7L258.7 86.2L263.5 81.8L266.4 77.0 M266.4 77.0L259.5 72.2L254.7 72.7L251.3 66.2L244.0 65.6L240.2 61.2L235.7 61.5L224.4 64.6L225.1 71.4L220.2 72.2L214.4 73.2L207.7 70.4L204.3 73.2L201.2 78.7L204.8 83.4 M235.4 95.9L239.4 97.2L243.4 95.7L240.2 92.7 M239.4 97.2L237.4 98.6L235.0 99.3L235.4 103.8 M239.4 97.2L244.7 97.8 M255.0 92.9L249.7 95.5L244.7 97.8L244.5 98.8L246.5 103.4L248.2 106.2L251.4 106.7L253.1 109.1L252.6 112.4L253.4 112.6L252.7 115.0L256.4 116.9L254.8 119.5L267.7 121.1L268.8 122.2L270.3 120.6L274.0 121.3L282.7 120.4L284.7 121.9L282.8 126.9L284.7 128.1L286.0 130.1L288.8 133.0L290.2 130.9L295.4 129.4L297.6 130.1L299.7 132.5 M254.8 119.5L260.0 122.2L267.7 123.9L267.7 121.1 M268.8 122.2L270.4 123.3L274.0 123.1L274.0 121.3 M235.7 128.6L240.2 127.4L238.6 121.9L243.4 117.3L246.0 115.4L245.8 112.0L248.2 106.2 M267.7 123.9L268.2 127.6L269.1 131.6 M274.8 126.4L272.7 129.0L274.5 133.9 M267.7 123.9L270.4 125.8L274.8 126.4 M282.7 120.4L279.1 124.6L277.5 128.1L276.1 129.9L274.5 133.9 M288.8 133.0L287.0 134.4L283.6 135.6L282.7 137.6L285.1 141.3L283.9 143.3L285.6 147.6L286.2 149.0L284.6 151.7 M287.0 134.4L287.6 135.9L288.9 135.9L288.4 139.0L290.2 138.1L293.3 138.0L294.4 141.0L295.7 142.3L295.9 144.7L291.7 144.8L290.7 145.8L291.5 149.0 M290.2 130.9L292.0 133.7L294.2 134.4L293.3 136.1L298.1 141.3L299.1 144.3L298.9 148.0L296.5 148.8L296.8 150.4L293.9 151.1 M295.9 144.7L299.1 144.3 M287.0 157.6L288.6 158.7L290.2 157.9 M302.3 164.7L303.3 166.5L305.8 166.3L310.3 165.7L312.1 161.2L315.2 161.2 M352.8 172.1L352.8 182.6 M325.5 183.0L327.1 182.8 M267.2 76.7L274.0 72.7L284.1 73.5L285.1 69.4L290.4 74.0L298.1 74.2L307.8 75.7L313.7 75.2L311.8 79.9L318.9 82.7L312.6 85.1L306.0 86.7L305.2 90.0L294.7 94.0L281.0 91.8L272.4 86.2L272.2 82.3L267.2 76.7 M313.7 75.2L317.7 74.0L320.3 66.2L324.8 65.6L331.1 75.2L336.2 77.5L343.2 78.7L340.1 86.4L337.2 86.9L336.1 92.5 M336.1 92.5L331.9 93.3L330.1 93.8L326.1 97.4 M328.8 102.3L332.5 100.5 M11.2 148.8L8.6 151.1L9.4 154.4L10.1 156.6L13.1 156.6L17.5 158.1L16.8 161.0L17.7 164.4L18.3 166.0 M18.3 166.0L13.6 165.2L14.3 169.9L13.5 174.7 M13.5 174.7L12.2 174.0L8.3 171.6L4.8 168.1L1.4 167.3L-0.8 165.7 M4.8 168.1L4.3 170.5L-0.0 173.4L-1.2 176.0L-3.3 173.4 M13.5 174.7L8.6 176.5L6.9 180.0L8.6 183.1L12.3 183.3L12.3 185.7L14.0 185.7 M14.0 185.7L15.4 188.2L14.9 192.3L14.0 196.2L12.7 197.9 M14.0 185.7L16.0 185.7L20.7 183.6L20.9 186.5L24.6 188.4L28.6 190.3L29.1 194.5L32.0 194.5L32.3 196.5L33.4 197.7L32.3 200.4L32.3 201.1 M32.3 201.1L26.7 200.1L25.2 204.6L22.5 205.6L21.0 204.4L17.8 205.6L16.2 203.4L15.2 200.9L14.1 196.5 M17.8 205.6L15.9 208.6L16.0 213.1L13.8 215.8L12.5 221.4L13.3 225.2L12.5 230.1 M32.3 201.1L32.8 204.4L36.3 204.7L36.8 207.7L38.6 207.9L38.1 210.6 M25.2 204.6L31.7 209.1L33.3 210.6L31.7 213.6L35.2 213.8L38.1 210.6L39.4 212.7L36.2 215.6L33.3 218.9 M33.3 218.9L35.8 220.1L40.0 225.6 M33.3 218.9L32.3 223.3L32.0 226.2 M18.3 166.0L20.6 166.6L23.9 164.4L22.6 161.3L27.8 160.7L28.3 159.5L27.1 158.4L27.6 157.1L29.4 154.2 M28.3 159.5L29.7 160.7L30.0 165.0L35.0 164.9L38.9 164.4L40.8 164.4L42.8 161.3 M33.9 158.4L33.7 162.4L35.0 164.9 M39.1 158.7L38.2 162.3L38.9 164.4 M18.1 86.7L16.8 81.8L14.6 81.1L12.0 86.0L5.7 86.7L2.9 88.9L-1.2 90.0 M10.6 135.6L10.4 138.3" fill="none" stroke="#cbbccb" stroke-width=".45" stroke-opacity=".7" stroke-linejoin="round"/>
 <g>
<circle cx="6.7" cy="160.3" r="8.8" fill="#f8f826" fill-opacity=".45"/><circle cx="6.7" cy="160.3" r="7.9" fill="#f8f826" fill-opacity=".93"/>
<circle cx="15.0" cy="148.3" r="8.8" fill="#2fd032" fill-opacity=".45"/><circle cx="15.0" cy="148.3" r="7.9" fill="#2fd032" fill-opacity=".93"/>
<circle cx="2.0" cy="187.5" r="8.8" fill="#a6a4a2" fill-opacity=".45"/><circle cx="2.0" cy="187.5" r="7.9" fill="#a6a4a2" fill-opacity=".93"/>
<circle cx="50.9" cy="206.9" r="8.8" fill="#2fd032" fill-opacity=".45"/><circle cx="50.9" cy="206.9" r="7.9" fill="#2fd032" fill-opacity=".93"/>
<circle cx="32.0" cy="227.3" r="8.8" fill="#a6a4a2" fill-opacity=".45"/><circle cx="32.0" cy="227.3" r="7.9" fill="#a6a4a2" fill-opacity=".93"/>
<circle cx="157.0" cy="90.0" r="8.8" fill="#ee1a26" fill-opacity=".45"/><circle cx="157.0" cy="90.0" r="7.9" fill="#ee1a26" fill-opacity=".93"/>
<circle cx="160.0" cy="91.9" r="8.8" fill="#ee1a26" fill-opacity=".45"/><circle cx="160.0" cy="91.9" r="7.9" fill="#ee1a26" fill-opacity=".93"/>
<circle cx="153.5" cy="87.8" r="8.8" fill="#ee1a26" fill-opacity=".45"/><circle cx="153.5" cy="87.8" r="7.9" fill="#ee1a26" fill-opacity=".93"/>
<circle cx="172.4" cy="82.0" r="8.8" fill="#f8f826" fill-opacity=".45"/><circle cx="172.4" cy="82.0" r="7.9" fill="#f8f826" fill-opacity=".93"/>
<circle cx="130.9" cy="104.3" r="8.8" fill="#f8f826" fill-opacity=".45"/><circle cx="130.9" cy="104.3" r="7.9" fill="#f8f826" fill-opacity=".93"/>
<circle cx="197.5" cy="97.2" r="8.8" fill="#f8f826" fill-opacity=".45"/><circle cx="197.5" cy="97.2" r="7.9" fill="#f8f826" fill-opacity=".93"/>
<circle cx="206.2" cy="96.7" r="8.8" fill="#f8f826" fill-opacity=".45"/><circle cx="206.2" cy="96.7" r="7.9" fill="#f8f826" fill-opacity=".93"/>
<circle cx="219.9" cy="101.8" r="8.8" fill="#a6a4a2" fill-opacity=".45"/><circle cx="219.9" cy="101.8" r="7.9" fill="#a6a4a2" fill-opacity=".93"/>
<circle cx="173.9" cy="116.3" r="8.8" fill="#f8f826" fill-opacity=".45"/><circle cx="173.9" cy="116.3" r="7.9" fill="#f8f826" fill-opacity=".93"/>
<circle cx="183.1" cy="113.9" r="8.8" fill="#2fd032" fill-opacity=".45"/><circle cx="183.1" cy="113.9" r="7.9" fill="#2fd032" fill-opacity=".93"/>
<circle cx="197.3" cy="111.0" r="8.8" fill="#f8f826" fill-opacity=".45"/><circle cx="197.3" cy="111.0" r="7.9" fill="#f8f826" fill-opacity=".93"/>
<circle cx="203.1" cy="118.4" r="8.8" fill="#f8f826" fill-opacity=".45"/><circle cx="203.1" cy="118.4" r="7.9" fill="#f8f826" fill-opacity=".93"/>
<circle cx="200.0" cy="126.0" r="8.8" fill="#a6a4a2" fill-opacity=".45"/><circle cx="200.0" cy="126.0" r="7.9" fill="#a6a4a2" fill-opacity=".93"/>
<circle cx="218.6" cy="126.2" r="8.8" fill="#ee1a26" fill-opacity=".45"/><circle cx="218.6" cy="126.2" r="7.9" fill="#ee1a26" fill-opacity=".93"/>
<circle cx="216.7" cy="128.6" r="8.8" fill="#f48a2c" fill-opacity=".45"/><circle cx="216.7" cy="128.6" r="7.9" fill="#f48a2c" fill-opacity=".93"/>
<circle cx="207.3" cy="125.1" r="8.8" fill="#f8f826" fill-opacity=".45"/><circle cx="207.3" cy="125.1" r="7.9" fill="#f8f826" fill-opacity=".93"/>
<circle cx="216.0" cy="125.8" r="8.8" fill="#f8f826" fill-opacity=".45"/><circle cx="216.0" cy="125.8" r="7.9" fill="#f8f826" fill-opacity=".93"/>
<circle cx="189.0" cy="132.4" r="8.8" fill="#2fd032" fill-opacity=".45"/><circle cx="189.0" cy="132.4" r="7.9" fill="#2fd032" fill-opacity=".93"/>
<circle cx="178.3" cy="142.5" r="8.8" fill="#ee1a26" fill-opacity=".45"/><circle cx="178.3" cy="142.5" r="7.9" fill="#ee1a26" fill-opacity=".93"/>
<circle cx="188.3" cy="153.4" r="8.8" fill="#f8f826" fill-opacity=".45"/><circle cx="188.3" cy="153.4" r="7.9" fill="#f8f826" fill-opacity=".93"/>
<circle cx="179.7" cy="173.4" r="8.8" fill="#f48a2c" fill-opacity=".45"/><circle cx="179.7" cy="173.4" r="7.9" fill="#f48a2c" fill-opacity=".93"/>
<circle cx="174.3" cy="171.1" r="8.8" fill="#ee1a26" fill-opacity=".45"/><circle cx="174.3" cy="171.1" r="7.9" fill="#ee1a26" fill-opacity=".93"/>
<circle cx="185.2" cy="170.0" r="8.8" fill="#f8f826" fill-opacity=".45"/><circle cx="185.2" cy="170.0" r="7.9" fill="#f8f826" fill-opacity=".93"/>
<circle cx="177.4" cy="166.5" r="8.8" fill="#a6a4a2" fill-opacity=".45"/><circle cx="177.4" cy="166.5" r="7.9" fill="#a6a4a2" fill-opacity=".93"/>
<circle cx="202.4" cy="198.9" r="8.8" fill="#a6a4a2" fill-opacity=".45"/><circle cx="202.4" cy="198.9" r="7.9" fill="#a6a4a2" fill-opacity=".93"/>
<circle cx="97.8" cy="144.0" r="8.8" fill="#ee1a26" fill-opacity=".45"/><circle cx="97.8" cy="144.0" r="7.9" fill="#ee1a26" fill-opacity=".93"/>
<circle cx="103.9" cy="152.6" r="8.8" fill="#ee1a26" fill-opacity=".45"/><circle cx="103.9" cy="152.6" r="7.9" fill="#ee1a26" fill-opacity=".93"/>
<circle cx="113.1" cy="147.4" r="8.8" fill="#ee1a26" fill-opacity=".45"/><circle cx="113.1" cy="147.4" r="7.9" fill="#ee1a26" fill-opacity=".93"/>
<circle cx="123.5" cy="147.9" r="8.8" fill="#ee1a26" fill-opacity=".45"/><circle cx="123.5" cy="147.9" r="7.9" fill="#ee1a26" fill-opacity=".93"/>
<circle cx="130.1" cy="157.8" r="8.8" fill="#a6a4a2" fill-opacity=".45"/><circle cx="130.1" cy="157.8" r="7.9" fill="#a6a4a2" fill-opacity=".93"/>
<circle cx="119.5" cy="159.3" r="8.8" fill="#f48a2c" fill-opacity=".45"/><circle cx="119.5" cy="159.3" r="7.9" fill="#f48a2c" fill-opacity=".93"/>
<circle cx="138.0" cy="153.3" r="8.8" fill="#ee1a26" fill-opacity=".45"/><circle cx="138.0" cy="153.3" r="7.9" fill="#ee1a26" fill-opacity=".93"/>
<circle cx="150.2" cy="148.3" r="8.8" fill="#74284e" fill-opacity=".45"/><circle cx="150.2" cy="148.3" r="7.9" fill="#74284e" fill-opacity=".93"/>
<circle cx="141.1" cy="167.3" r="8.8" fill="#a6a4a2" fill-opacity=".45"/><circle cx="141.1" cy="167.3" r="7.9" fill="#a6a4a2" fill-opacity=".93"/>
<circle cx="150.6" cy="174.8" r="8.8" fill="#a6a4a2" fill-opacity=".45"/><circle cx="150.6" cy="174.8" r="7.9" fill="#a6a4a2" fill-opacity=".93"/>
<circle cx="237.3" cy="94.8" r="8.8" fill="#f48a2c" fill-opacity=".45"/><circle cx="237.3" cy="94.8" r="7.9" fill="#f48a2c" fill-opacity=".93"/>
<circle cx="246.0" cy="91.4" r="8.8" fill="#ee1a26" fill-opacity=".45"/><circle cx="246.0" cy="91.4" r="7.9" fill="#ee1a26" fill-opacity=".93"/>
<circle cx="249.7" cy="90.6" r="8.8" fill="#f48a2c" fill-opacity=".45"/><circle cx="249.7" cy="90.6" r="7.9" fill="#f48a2c" fill-opacity=".93"/>
<circle cx="236.6" cy="100.6" r="8.8" fill="#ee1a26" fill-opacity=".45"/><circle cx="236.6" cy="100.6" r="7.9" fill="#ee1a26" fill-opacity=".93"/>
<circle cx="245.6" cy="114.4" r="8.8" fill="#ee1a26" fill-opacity=".45"/><circle cx="245.6" cy="114.4" r="7.9" fill="#ee1a26" fill-opacity=".93"/>
<circle cx="243.5" cy="110.3" r="8.8" fill="#ee1a26" fill-opacity=".45"/><circle cx="243.5" cy="110.3" r="7.9" fill="#ee1a26" fill-opacity=".93"/>
<circle cx="240.5" cy="109.7" r="8.8" fill="#ee1a26" fill-opacity=".45"/><circle cx="240.5" cy="109.7" r="7.9" fill="#ee1a26" fill-opacity=".93"/>
<circle cx="250.2" cy="119.9" r="8.8" fill="#9c2480" fill-opacity=".45"/><circle cx="250.2" cy="119.9" r="7.9" fill="#9c2480" fill-opacity=".93"/>
<circle cx="263.2" cy="121.5" r="8.8" fill="#f48a2c" fill-opacity=".45"/><circle cx="263.2" cy="121.5" r="7.9" fill="#f48a2c" fill-opacity=".93"/>
<circle cx="268.1" cy="130.6" r="8.8" fill="#ee1a26" fill-opacity=".45"/><circle cx="268.1" cy="130.6" r="7.9" fill="#ee1a26" fill-opacity=".93"/>
<circle cx="269.5" cy="129.9" r="8.8" fill="#ee1a26" fill-opacity=".45"/><circle cx="269.5" cy="129.9" r="7.9" fill="#ee1a26" fill-opacity=".93"/>
<circle cx="233.7" cy="126.6" r="8.8" fill="#f8f826" fill-opacity=".45"/><circle cx="233.7" cy="126.6" r="7.9" fill="#f8f826" fill-opacity=".93"/>
<circle cx="243.2" cy="136.6" r="8.8" fill="#f8f826" fill-opacity=".45"/><circle cx="243.2" cy="136.6" r="7.9" fill="#f8f826" fill-opacity=".93"/>
<circle cx="252.2" cy="139.5" r="8.8" fill="#f8f826" fill-opacity=".45"/><circle cx="252.2" cy="139.5" r="7.9" fill="#f8f826" fill-opacity=".93"/>
<circle cx="255.1" cy="146.7" r="8.8" fill="#f48a2c" fill-opacity=".45"/><circle cx="255.1" cy="146.7" r="7.9" fill="#f48a2c" fill-opacity=".93"/>
<circle cx="254.4" cy="156.7" r="8.8" fill="#f48a2c" fill-opacity=".45"/><circle cx="254.4" cy="156.7" r="7.9" fill="#f48a2c" fill-opacity=".93"/>
<circle cx="280.6" cy="140.5" r="8.8" fill="#f8f826" fill-opacity=".45"/><circle cx="280.6" cy="140.5" r="7.9" fill="#f8f826" fill-opacity=".93"/>
<circle cx="296.3" cy="133.3" r="8.8" fill="#ee1a26" fill-opacity=".45"/><circle cx="296.3" cy="133.3" r="7.9" fill="#ee1a26" fill-opacity=".93"/>
<circle cx="291.7" cy="138.7" r="8.8" fill="#a6a4a2" fill-opacity=".45"/><circle cx="291.7" cy="138.7" r="7.9" fill="#a6a4a2" fill-opacity=".93"/>
<circle cx="308.2" cy="129.6" r="8.8" fill="#f48a2c" fill-opacity=".45"/><circle cx="308.2" cy="129.6" r="7.9" fill="#f48a2c" fill-opacity=".93"/>
<circle cx="297.6" cy="150.5" r="8.8" fill="#f8f826" fill-opacity=".45"/><circle cx="297.6" cy="150.5" r="7.9" fill="#f8f826" fill-opacity=".93"/>
<circle cx="289.6" cy="162.9" r="8.8" fill="#2fd032" fill-opacity=".45"/><circle cx="289.6" cy="162.9" r="7.9" fill="#2fd032" fill-opacity=".93"/>
<circle cx="297.8" cy="177.9" r="8.8" fill="#f8f826" fill-opacity=".45"/><circle cx="297.8" cy="177.9" r="7.9" fill="#f8f826" fill-opacity=".93"/>
<circle cx="297.9" cy="79.9" r="8.8" fill="#a6a4a2" fill-opacity=".45"/><circle cx="297.9" cy="79.9" r="7.9" fill="#a6a4a2" fill-opacity=".93"/>
<circle cx="313.2" cy="97.8" r="8.8" fill="#ee1a26" fill-opacity=".45"/><circle cx="313.2" cy="97.8" r="7.9" fill="#ee1a26" fill-opacity=".93"/>
<circle cx="324.5" cy="93.8" r="8.8" fill="#a6a4a2" fill-opacity=".45"/><circle cx="324.5" cy="93.8" r="7.9" fill="#a6a4a2" fill-opacity=".93"/>
<circle cx="321.4" cy="115.0" r="8.8" fill="#f8f826" fill-opacity=".45"/><circle cx="321.4" cy="115.0" r="7.9" fill="#f8f826" fill-opacity=".93"/>
 </g>
</svg>
<div id="lb"><b style="left:6.7px;top:160.8px">52</b><b style="left:15.0px;top:148.8px">28</b><b style="left:2.0px;top:188.0px">N/A</b><b style="left:50.9px;top:207.4px">18</b><b style="left:32.0px;top:227.8px">N/A</b><b style="left:160.0px;top:92.4px">127</b><b style="left:153.5px;top:88.3px">153</b><b style="left:172.4px;top:82.5px">59</b><b style="left:130.9px;top:104.8px">57</b><b style="left:197.5px;top:97.7px">54</b><b style="left:206.2px;top:97.2px">58</b><b style="left:219.9px;top:102.3px">N/A</b><b style="left:173.9px;top:116.8px">86</b><b style="left:183.1px;top:114.4px">34</b><b style="left:197.3px;top:111.5px">52</b><b style="left:203.1px;top:118.9px">73</b><b style="left:200.0px;top:126.5px">N/A</b><b style="left:207.3px;top:125.6px">88</b><b style="left:216.0px;top:126.3px">95</b><b style="left:189.0px;top:132.9px">33</b><b style="left:178.3px;top:143.0px">165</b><b style="left:188.3px;top:153.9px">83</b><b style="left:174.3px;top:171.6px">173</b><b style="left:185.2px;top:170.5px">71</b><b style="left:177.4px;top:167.0px">N/A</b><b style="left:202.4px;top:199.4px">N/A</b><b style="left:97.8px;top:144.5px">180</b><b style="left:103.9px;top:153.1px">191</b><b style="left:113.1px;top:147.9px">182</b><b style="left:123.5px;top:148.4px">191</b><b style="left:119.5px;top:159.8px">111</b><b style="left:138.0px;top:153.8px">176</b><b style="left:130.1px;top:158.3px">N/A</b><b style="left:150.2px;top:148.8px">402</b><b style="left:141.1px;top:167.8px">N/A</b><b style="left:150.6px;top:175.3px">N/A</b><b style="left:237.3px;top:95.3px">145</b><b style="left:246.0px;top:91.9px">176</b><b style="left:249.7px;top:91.1px">138</b><b style="left:236.6px;top:101.1px">162</b><b style="left:245.6px;top:114.9px">175</b><b style="left:243.5px;top:110.8px">15</b><b style="left:240.5px;top:110.2px">152</b><b style="left:250.2px;top:120.4px">207</b><b style="left:263.2px;top:122.0px">105</b><b style="left:269.5px;top:130.4px">1819</b><b style="left:233.7px;top:127.1px">98</b><b style="left:243.2px;top:137.1px">95</b><b style="left:252.2px;top:140.0px">86</b><b style="left:255.1px;top:147.2px">147</b><b style="left:254.4px;top:157.2px">106</b><b style="left:280.6px;top:141.0px">86</b><b style="left:296.3px;top:133.8px">152</b><b style="left:291.7px;top:139.2px">N/A</b><b style="left:308.2px;top:130.1px">106</b><b style="left:297.6px;top:151.0px">84</b><b style="left:289.6px;top:163.4px">17</b><b style="left:297.8px;top:178.4px">77</b><b style="left:297.9px;top:80.4px">N/A</b><b style="left:313.2px;top:98.3px">170</b><b style="left:324.5px;top:94.3px">N/A</b><b style="left:321.4px;top:115.5px">85</b></div>
</div>

<div id="pop" class="abs"><span class="abs" style="left:31.6px;top:8.6px;width:.7px;height:7.6px;background:#222"></span><span class="abs" style="left:30.6px;top:8.4px;width:2.7px;height:.6px;background:#222"></span><span class="abs" style="left:30.6px;top:15.8px;width:2.7px;height:.6px;background:#222"></span>
 <div style="padding-top:9.2px">Bishkek<br>2023-02-16 6:00 PM<br>(LT)</div>
 <table><tr><th style="width:46px">Pollutant</th><th>AQI</th></tr><tr><td>PM2.5</td><td style="background:#ff0000;color:#fff;font-weight:bold">176</td></tr></table>
</div>
<svg class="abs" style="left:257px;top:113.5px" width="10" height="5" viewBox="0 0 10 5"><path d="M0 0H10L5 5Z" fill="#fff"/></svg>

<div class="abs blue bar" style="top:3px"><span>Select a City</span></div>
<div class="abs sel" style="top:23.4px">Bishkek<i>X</i><s></s></div>
<div class="abs blue bar" style="top:56.7px"><span>Select a Parameter</span></div>
<div class="abs sel" style="top:77.2px">PM2.5<i>X</i><s></s></div>

<div id="city" class="abs"><b>Bishkek</b>
 <svg class="abs" style="left:160.9px;top:14.8px" width="19.6" height="19.3" viewBox="0 0 20 20"><rect width="20" height="20" fill="#e9a636"/>
  <circle cx="5.1" cy="15.2" r="2.2" fill="#fff"/><path d="M3 9a8.3 8.3 0 0 1 8.3 8.3" fill="none" stroke="#fff" stroke-width="2.6"/><path d="M3 3.9a13.4 13.4 0 0 1 13.4 13.4" fill="none" stroke="#fff" stroke-width="2.6"/></svg>
</div>
<div id="note" class="abs">Note: Values above 500 are considered Beyond the AQI. Follow<br>recommendations for the Hazardous category. Additional<br>information on reducing exposure to extremely high levels of particle<br>pollution is available <u>here</u>.</div>

<div class="abs" style="left:16px;top:285px;width:599px;height:.8px;background:#c4c4c4"></div>
<div class="abs tab on" style="left:16px;width:60.5px">AQI</div>
<div class="abs tab off" style="left:78.5px;width:94px">Concentration</div>
<div class="abs tab off" style="left:174.7px;width:78px">Historical</div>
<div id="learn" class="abs">Learn more about how the Air Quality Index [AQI] is calculated from the EPA <u>here</u>.</div>

<div id="chart" class="abs">
<svg width="450" height="190" viewBox="0 0 450 190">
 <text x="224.5" y="13.5" text-anchor="middle" style="font:10px 'DejaVu Sans',Verdana,sans-serif;fill:#333">Bishkek – PM2.5</text>
 <line x1="42.5" x2="444" y1="139.0" y2="139.0" stroke="#ccd6eb" stroke-width="1"/><text x="33.7" y="141.1" text-anchor="end" class="yl">0</text><line x1="42.5" x2="444" y1="118.3" y2="118.3" stroke="#e6e6e6" stroke-width="1"/><text x="33.7" y="120.4" text-anchor="end" class="yl">100</text><line x1="42.5" x2="444" y1="97.7" y2="97.7" stroke="#e6e6e6" stroke-width="1"/><text x="33.7" y="99.8" text-anchor="end" class="yl">200</text><line x1="42.5" x2="444" y1="77.0" y2="77.0" stroke="#e6e6e6" stroke-width="1"/><text x="33.7" y="79.1" text-anchor="end" class="yl">300</text><line x1="42.5" x2="444" y1="56.4" y2="56.4" stroke="#e6e6e6" stroke-width="1"/><text x="33.7" y="58.5" text-anchor="end" class="yl">400</text><line x1="42.5" x2="444" y1="35.7" y2="35.7" stroke="#e6e6e6" stroke-width="1"/><text x="33.7" y="37.8" text-anchor="end" class="yl">500</text>
 <line x1="42.3" x2="42.3" y1="139.0" y2="143.0" stroke="#ccd6eb" stroke-width=".6"/><line x1="59.1" x2="59.1" y1="139.0" y2="143.0" stroke="#ccd6eb" stroke-width=".6"/><line x1="75.8" x2="75.8" y1="139.0" y2="143.0" stroke="#ccd6eb" stroke-width=".6"/><line x1="92.5" x2="92.5" y1="139.0" y2="143.0" stroke="#ccd6eb" stroke-width=".6"/><line x1="109.3" x2="109.3" y1="139.0" y2="143.0" stroke="#ccd6eb" stroke-width=".6"/><line x1="126.0" x2="126.0" y1="139.0" y2="143.0" stroke="#ccd6eb" stroke-width=".6"/><line x1="142.8" x2="142.8" y1="139.0" y2="143.0" stroke="#ccd6eb" stroke-width=".6"/><line x1="159.5" x2="159.5" y1="139.0" y2="143.0" stroke="#ccd6eb" stroke-width=".6"/><line x1="176.2" x2="176.2" y1="139.0" y2="143.0" stroke="#ccd6eb" stroke-width=".6"/><line x1="193.0" x2="193.0" y1="139.0" y2="143.0" stroke="#ccd6eb" stroke-width=".6"/><line x1="209.7" x2="209.7" y1="139.0" y2="143.0" stroke="#ccd6eb" stroke-width=".6"/><line x1="226.5" x2="226.5" y1="139.0" y2="143.0" stroke="#ccd6eb" stroke-width=".6"/><line x1="243.2" x2="243.2" y1="139.0" y2="143.0" stroke="#ccd6eb" stroke-width=".6"/><line x1="259.9" x2="259.9" y1="139.0" y2="143.0" stroke="#ccd6eb" stroke-width=".6"/><line x1="276.7" x2="276.7" y1="139.0" y2="143.0" stroke="#ccd6eb" stroke-width=".6"/><line x1="293.4" x2="293.4" y1="139.0" y2="143.0" stroke="#ccd6eb" stroke-width=".6"/><line x1="310.2" x2="310.2" y1="139.0" y2="143.0" stroke="#ccd6eb" stroke-width=".6"/><line x1="326.9" x2="326.9" y1="139.0" y2="143.0" stroke="#ccd6eb" stroke-width=".6"/><line x1="343.6" x2="343.6" y1="139.0" y2="143.0" stroke="#ccd6eb" stroke-width=".6"/><line x1="360.4" x2="360.4" y1="139.0" y2="143.0" stroke="#ccd6eb" stroke-width=".6"/><line x1="377.1" x2="377.1" y1="139.0" y2="143.0" stroke="#ccd6eb" stroke-width=".6"/><line x1="393.9" x2="393.9" y1="139.0" y2="143.0" stroke="#ccd6eb" stroke-width=".6"/><line x1="410.6" x2="410.6" y1="139.0" y2="143.0" stroke="#ccd6eb" stroke-width=".6"/><line x1="427.3" x2="427.3" y1="139.0" y2="143.0" stroke="#ccd6eb" stroke-width=".6"/><line x1="444.1" x2="444.1" y1="139.0" y2="143.0" stroke="#ccd6eb" stroke-width=".6"/>
 <text transform="translate(16.3 87.2) rotate(-90)" text-anchor="middle" style="font-size:6.6px;fill:#333">AQI</text>
 <rect x="46.4" y="107.0" width="8.6" height="32.0" fill="#ff0000" stroke="#1a0008" stroke-width=".6"/><rect x="63.1" y="106.8" width="8.6" height="32.2" fill="#ff0000" stroke="#1a0008" stroke-width=".6"/><rect x="79.9" y="105.9" width="8.6" height="33.1" fill="#ff0000" stroke="#1a0008" stroke-width=".6"/><rect x="96.6" y="101.6" width="8.6" height="37.4" fill="#ff0000" stroke="#1a0008" stroke-width=".6"/><rect x="113.4" y="98.5" width="8.6" height="40.5" fill="#ff0000" stroke="#1a0008" stroke-width=".6"/><rect x="130.1" y="96.9" width="8.6" height="42.1" fill="#99004c" stroke="#1a0008" stroke-width=".6"/><rect x="146.8" y="96.2" width="8.6" height="42.8" fill="#99004c" stroke="#1a0008" stroke-width=".6"/><rect x="163.6" y="98.5" width="8.6" height="40.5" fill="#ff0000" stroke="#1a0008" stroke-width=".6"/><rect x="180.3" y="93.5" width="8.6" height="45.5" fill="#99004c" stroke="#1a0008" stroke-width=".6"/><rect x="197.1" y="94.2" width="8.6" height="44.8" fill="#99004c" stroke="#1a0008" stroke-width=".6"/><rect x="213.8" y="94.2" width="8.6" height="44.8" fill="#99004c" stroke="#1a0008" stroke-width=".6"/><rect x="230.5" y="96.2" width="8.6" height="42.8" fill="#99004c" stroke="#1a0008" stroke-width=".6"/><rect x="247.3" y="102.0" width="8.6" height="37.0" fill="#ff0000" stroke="#1a0008" stroke-width=".6"/><rect x="264.0" y="105.9" width="8.6" height="33.1" fill="#ff0000" stroke="#1a0008" stroke-width=".6"/><rect x="280.8" y="107.0" width="8.6" height="32.0" fill="#ff0000" stroke="#1a0008" stroke-width=".6"/><rect x="297.5" y="106.4" width="8.6" height="32.6" fill="#ff0000" stroke="#1a0008" stroke-width=".6"/><rect x="314.2" y="105.1" width="8.6" height="33.9" fill="#ff0000" stroke="#1a0008" stroke-width=".6"/><rect x="331.0" y="101.4" width="8.6" height="37.6" fill="#ff0000" stroke="#1a0008" stroke-width=".6"/><rect x="347.7" y="98.7" width="8.6" height="40.3" fill="#ff0000" stroke="#1a0008" stroke-width=".6"/><rect x="364.5" y="96.6" width="8.6" height="42.4" fill="#99004c" stroke="#1a0008" stroke-width=".6"/><rect x="381.2" y="94.0" width="8.6" height="45.0" fill="#99004c" stroke="#1a0008" stroke-width=".6"/><rect x="397.9" y="96.6" width="8.6" height="42.4" fill="#99004c" stroke="#1a0008" stroke-width=".6"/><rect x="414.7" y="100.8" width="8.6" height="38.2" fill="#ff0000" stroke="#1a0008" stroke-width=".6"/><rect x="431.4" y="103.1" width="8.6" height="35.9" fill="#ff0000" stroke="#1a0008" stroke-width=".6"/>
 <text transform="translate(52.5 147.6) rotate(-45)" text-anchor="end">7 PM</text><text transform="translate(69.2 147.6) rotate(-45)" text-anchor="end">8 PM</text><text transform="translate(86.0 147.6) rotate(-45)" text-anchor="end">9 PM</text><text transform="translate(102.7 147.6) rotate(-45)" text-anchor="end">10 PM</text><text transform="translate(119.5 147.6) rotate(-45)" text-anchor="end">11 PM</text><text transform="translate(136.2 147.6) rotate(-45)" text-anchor="end">Feb 16, 2023 12 AM</text><text transform="translate(152.9 147.6) rotate(-45)" text-anchor="end">1 AM</text><text transform="translate(169.7 147.6) rotate(-45)" text-anchor="end">2 AM</text><text transform="translate(186.4 147.6) rotate(-45)" text-anchor="end">3 AM</text><text transform="translate(203.2 147.6) rotate(-45)" text-anchor="end">4 AM</text><text transform="translate(219.9 147.6) rotate(-45)" text-anchor="end">5 AM</text><text transform="translate(236.6 147.6) rotate(-45)" text-anchor="end">6 AM</text><text transform="translate(253.4 147.6) rotate(-45)" text-anchor="end">7 AM</text><text transform="translate(270.1 147.6) rotate(-45)" text-anchor="end">8 AM</text><text transform="translate(286.9 147.6) rotate(-45)" text-anchor="end">9 AM</text><text transform="translate(303.6 147.6) rotate(-45)" text-anchor="end">10 AM</text><text transform="translate(320.3 147.6) rotate(-45)" text-anchor="end">11 AM</text><text transform="translate(337.1 147.6) rotate(-45)" text-anchor="end">12 PM</text><text transform="translate(353.8 147.6) rotate(-45)" text-anchor="end">1 PM</text><text transform="translate(370.6 147.6) rotate(-45)" text-anchor="end">2 PM</text><text transform="translate(387.3 147.6) rotate(-45)" text-anchor="end">3 PM</text><text transform="translate(404.0 147.6) rotate(-45)" text-anchor="end">4 PM</text><text transform="translate(420.8 147.6) rotate(-45)" text-anchor="end">5 PM</text><text transform="translate(437.5 147.6) rotate(-45)" text-anchor="end">6 PM</text>
</svg>
</div>

<div id="cond" class="abs">
 <div class="h blue"><div style="padding-top:3.6px">Current Conditions</div><div style="font-size:7px;line-height:12px">observed at</div><div style="line-height:11.4px">Feb 16, 2023 6:00 PM (LT)</div></div>
 <div class="r">176 AQI<br>Unhealthy<br>PM2.5</div>
 <div class="m"><b>Health Message</b>Everyone may begin to experience health<br>effects when AQI values are between 151<br>and 200. Members of sensitive groups may<br>experience more serious health effects.</div>
</div>

</body></html>
